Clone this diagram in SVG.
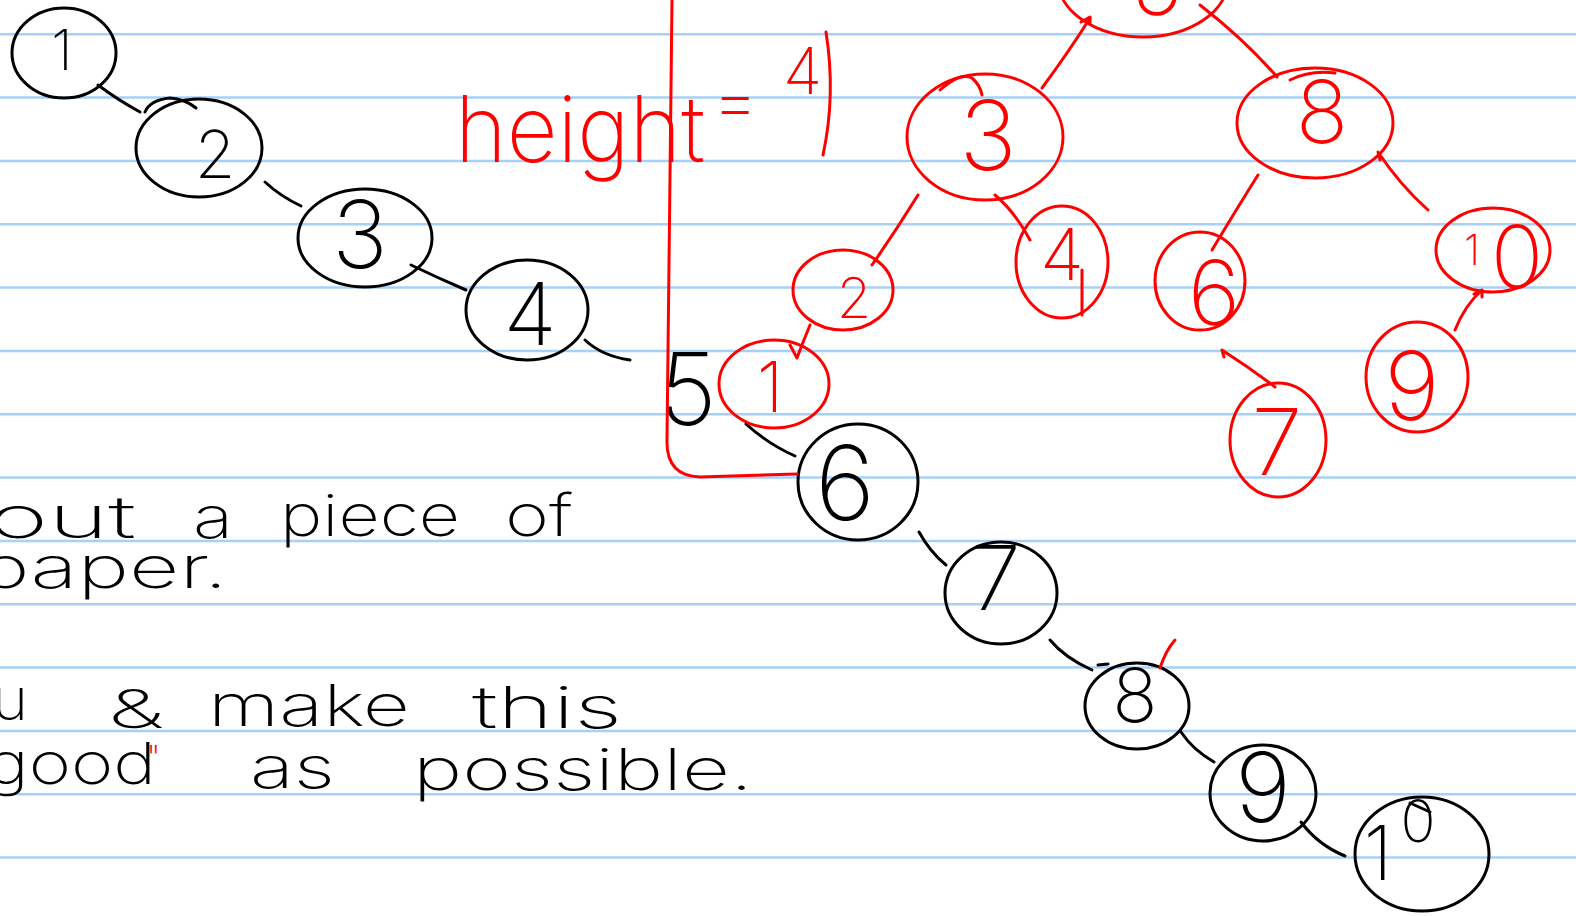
<svg xmlns="http://www.w3.org/2000/svg" width="1576" height="916" viewBox="0 0 1576 916">
  <style>
    .rule { stroke: #a6d0f8; stroke-width: 2.5; }
    .k { fill: none; stroke: #000; stroke-width: 3; stroke-linecap: round; stroke-linejoin: round; }
    .r { fill: none; stroke: #f00; stroke-width: 3; stroke-linecap: round; stroke-linejoin: round; }
    .kd { fill: #000; font-family: Inter, "Noto Sans", "Liberation Sans", sans-serif; font-weight: 200; text-anchor: middle; }
    .rd { fill: #f00; font-family: Inter, "Noto Sans", "Liberation Sans", sans-serif; font-weight: 200; text-anchor: middle; }
    .kw { fill: #000; font-family: Inter, "Noto Sans", "Liberation Sans", sans-serif; font-weight: 200; }
    .rw { fill: #f00; font-family: Inter, "Noto Sans", "Liberation Sans", sans-serif; font-weight: 200; }
  </style>

  <!-- paper -->
  <rect width="1576" height="916" fill="#fff"/>
  <g id="ruling">
    <line class="rule" x1="0" y1="34.3" x2="1576" y2="34.3"/>
    <line class="rule" x1="0" y1="97.6" x2="1576" y2="97.6"/>
    <line class="rule" x1="0" y1="161" x2="1576" y2="161"/>
    <line class="rule" x1="0" y1="224.3" x2="1576" y2="224.3"/>
    <line class="rule" x1="0" y1="287.6" x2="1576" y2="287.6"/>
    <line class="rule" x1="0" y1="351" x2="1576" y2="351"/>
    <line class="rule" x1="0" y1="414.3" x2="1576" y2="414.3"/>
    <line class="rule" x1="0" y1="477.6" x2="1576" y2="477.6"/>
    <line class="rule" x1="0" y1="541" x2="1576" y2="541"/>
    <line class="rule" x1="0" y1="604.3" x2="1576" y2="604.3"/>
    <line class="rule" x1="0" y1="667.6" x2="1576" y2="667.6"/>
    <line class="rule" x1="0" y1="731" x2="1576" y2="731"/>
    <line class="rule" x1="0" y1="794.3" x2="1576" y2="794.3"/>
    <line class="rule" x1="0" y1="857.6" x2="1576" y2="857.6"/>
  </g>

  <!-- degenerate chain (black) -->
  <g id="chain-connectors">
    <path class="k" d="M98,85 Q118,100 140,112"/>
    <path class="k" d="M265,182 Q280,196 301,206"/>
    <path class="k" d="M411,265 Q438,278 466,290"/>
    <path class="k" d="M585,340 Q602,356 630,360"/>
    <path class="k" d="M746,424 Q768,444 795,456"/>
    <path class="k" d="M919,532 Q930,552 946,565"/>
    <path class="k" d="M1050,640 Q1065,658 1092,670"/>
    <path class="k" d="M1181,732 Q1193,750 1214,762"/>
    <path class="k" d="M1301,822 Q1318,845 1345,856"/>
  </g>
  <g id="c1"><ellipse class="k" cx="64" cy="53" rx="52" ry="45"/><text class="kd" x="62" y="70" font-size="56">1</text></g>
  <g id="c2"><ellipse class="k" cx="199" cy="148" rx="63" ry="49"/><path class="k" d="M145,112 Q150,100 170,98 Q185,99 196,108"/><text class="kd" x="215" y="178" font-size="66">2</text></g>
  <g id="c3"><ellipse class="k" cx="365" cy="238" rx="67" ry="49"/><text class="kd" x="360" y="268" font-size="94">3</text></g>
  <g id="c4"><ellipse class="k" cx="527" cy="310" rx="61" ry="50"/><text class="kd" x="530" y="345" font-size="87">4</text></g>
  <g id="c5"><text class="kd" x="688" y="425" font-size="100">5</text></g>
  <g id="c6"><ellipse class="k" cx="858" cy="482" rx="60" ry="58"/><text class="kd" x="845" y="520" font-size="103">6</text></g>
  <g id="c7"><ellipse class="k" cx="1001" cy="593" rx="56" ry="51"/><text class="kd" x="996" y="610" font-size="90">7</text></g>
  <g id="c8"><ellipse class="k" cx="1137" cy="706" rx="52" ry="43"/><path class="k" d="M1098,665 L1108,664"/><text class="kd" x="1135" y="722" font-size="75">8</text></g>
  <g id="c9"><ellipse class="k" cx="1263" cy="793" rx="53" ry="48"/><text class="kd" x="1263" y="822" font-size="96">9</text></g>
  <g id="c10"><ellipse class="k" cx="1422" cy="854" rx="67" ry="57"/><path class="k" d="M1410,803 L1430,812"/><text class="kd"><tspan x="1378" y="880" font-size="75">1</tspan><tspan x="1418" y="842" font-size="58">0</tspan></text></g>
  <path class="r" d="M1160,668 Q1166,650 1175,640"/>

  <!-- balanced tree (red) -->
  <g id="tree-connectors">
    <path class="r" d="M1090,18 Q1070,50 1042,88"/>
    <path class="r" d="M1081,22 L1090,17 L1090,23"/>
    <path class="r" d="M1200,5 Q1245,40 1277,77"/>
    <path class="r" d="M918,195 Q895,232 872,265"/>
    <path class="r" d="M995,195 Q1015,212 1030,240"/>
    <path class="r" d="M810,325 Q803,342 797,358 L790,345"/>
    <path class="r" d="M1258,175 Q1236,210 1212,250"/>
    <path class="r" d="M1380,160 L1378,152 Q1400,185 1428,210"/>
    <path class="r" d="M1224,357 L1222,350 Q1250,368 1275,387"/>
    <path class="r" d="M1474,294 L1482,290 L1482,297 M1482,290 Q1465,305 1455,330"/>
  </g>
  <g id="t5"><ellipse class="r" cx="1143" cy="-20" rx="85" ry="57"/><text class="rd" x="1157" y="15" font-size="90">5</text></g>
  <g id="t3"><ellipse class="r" cx="985" cy="137" rx="78" ry="63"/><path class="r" d="M940,90 Q960,72 972,78 Q980,85 982,95"/><text class="rd" x="988" y="170" font-size="97">3</text></g>
  <g id="t8"><ellipse class="r" cx="1315" cy="123" rx="78" ry="55"/><path class="r" d="M1290,80 Q1310,70 1335,73"/><text class="rd" x="1322" y="143" font-size="87">8</text></g>
  <g id="t2"><ellipse class="r" cx="843" cy="290" rx="50" ry="40"/><text class="rd" x="854" y="318" font-size="56">2</text></g>
  <g id="t4"><ellipse class="r" cx="1062" cy="262" rx="46" ry="56"/><path class="r" d="M1082,270 L1082,315"/><text class="rd" x="1062" y="280" font-size="72">4</text></g>
  <g id="t1"><ellipse class="r" cx="774" cy="384" rx="55" ry="44"/><text class="rd" x="770" y="412" font-size="70">1</text></g>
  <g id="t6"><ellipse class="r" cx="1200" cy="281" rx="45" ry="49"/><text class="rd" x="1214" y="325" font-size="90">6</text></g>
  <g id="t10"><ellipse class="r" cx="1493" cy="250" rx="57" ry="42"/><text class="rd"><tspan x="1472" y="265" font-size="42">1</tspan><tspan x="1517" y="288" font-size="87">0</tspan></text></g>
  <g id="t7"><ellipse class="r" cx="1278" cy="440" rx="48" ry="57"/><text class="rd" x="1277" y="475" font-size="92">7</text></g>
  <g id="t9"><ellipse class="r" cx="1417" cy="377" rx="51" ry="55"/><text class="rd" x="1412" y="420" font-size="95">9</text></g>

  <!-- height annotation -->
  <g id="height-note">
    <text class="rw" x="455" y="162" font-size="92" textLength="250" lengthAdjust="spacingAndGlyphs">height</text>
    <text class="rw" x="712" y="126" font-size="72">=</text>
    <text class="rw" x="783" y="94" font-size="64">4</text>
    <path class="r" d="M826,32 Q836,95 823,155"/>
    <path class="r" d="M672,0 L667,440 Q666,476 700,477 L797,474"/>
  </g>

  <!-- handwritten instructions -->
  <g id="notes">
    <text class="kw" x="-12" y="538" font-size="58" textLength="148" lengthAdjust="spacingAndGlyphs">out</text>
    <text class="kw" x="193" y="538" font-size="58" textLength="40" lengthAdjust="spacingAndGlyphs">a</text>
    <text class="kw" x="280" y="536" font-size="58" textLength="180" lengthAdjust="spacingAndGlyphs">piece</text>
    <text class="kw" x="505" y="536" font-size="58" textLength="68" lengthAdjust="spacingAndGlyphs">of</text>
    <text class="kw" x="-22" y="588" font-size="58" textLength="250" lengthAdjust="spacingAndGlyphs">paper.</text>
    <text class="kw" x="-8" y="720" font-size="58" textLength="36" lengthAdjust="spacingAndGlyphs">u</text>
    <text class="kw" x="108" y="728" font-size="54" textLength="56" lengthAdjust="spacingAndGlyphs">&amp;</text>
    <text class="kw" x="208" y="726" font-size="58" textLength="202" lengthAdjust="spacingAndGlyphs">make</text>
    <text class="kw" x="472" y="728" font-size="58" textLength="150" lengthAdjust="spacingAndGlyphs">this</text>
    <text class="kw" x="-14" y="784" font-size="58" textLength="170" lengthAdjust="spacingAndGlyphs">good</text>
    <text class="rw" x="146" y="772" font-size="36">"</text>
    <text class="kw" x="250" y="788" font-size="58" textLength="85" lengthAdjust="spacingAndGlyphs">as</text>
    <text class="kw" x="413" y="790" font-size="58" textLength="340" lengthAdjust="spacingAndGlyphs">possible.</text>
  </g>
</svg>
